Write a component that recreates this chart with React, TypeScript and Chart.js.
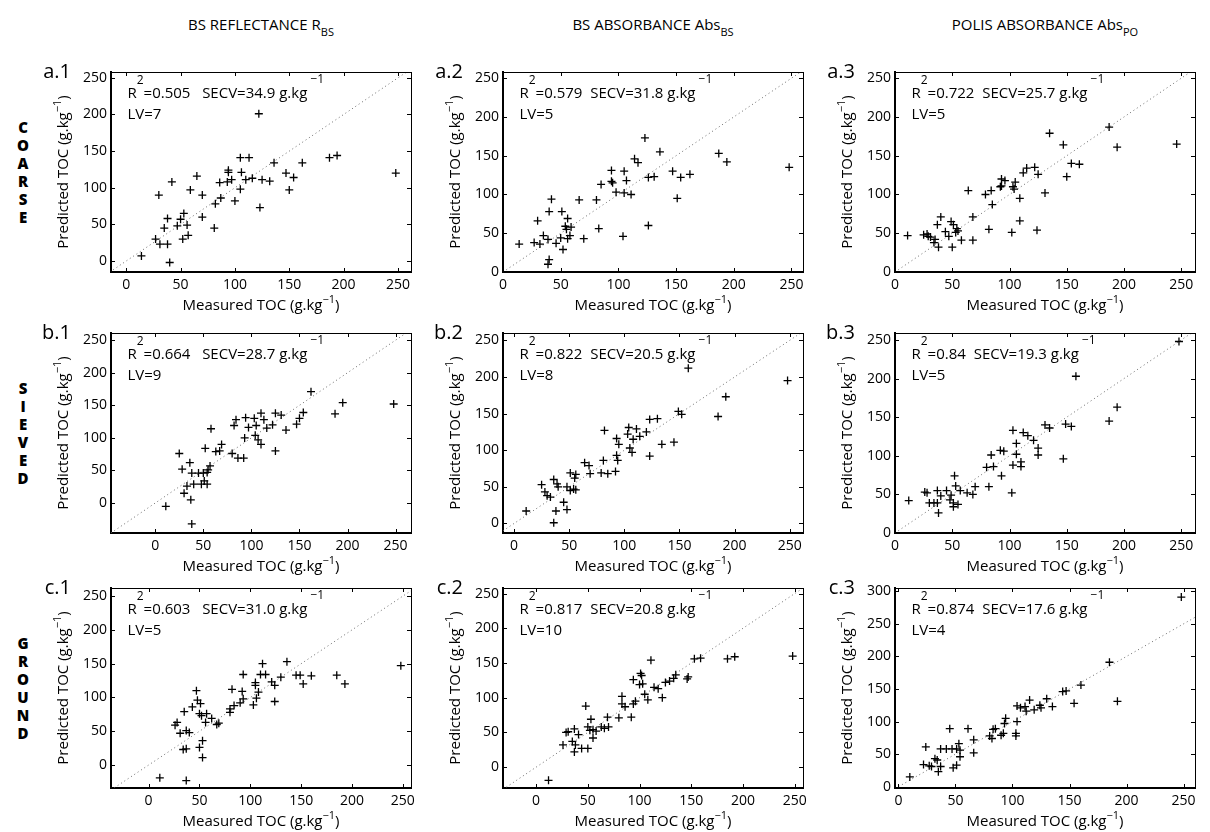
import React, { useEffect, useRef } from "react";
import { Chart, registerables } from "chart.js";

Chart.register(...registerables);

const FONT = '"Open Sans", "Noto Sans", "DejaVu Sans", sans-serif';

// ---------------- data (measured vs predicted TOC, g.kg-1) ----------------
const a1Measured = [122, 105, 113, 136, 187, 194, 162, 65, 42, 94, 94, 106, 86, 93, 97, 110, 116, 125, 132, 147, 154, 150, 105, 59, 30, 70, 248, 38, 53, 50, 70, 35, 47, 56, 81, 27, 31, 38, 52, 57, 14, 40, 82, 87, 100, 123];
const a1Predicted = [201, 141, 141, 134, 141, 144, 134, 116, 108, 124, 121, 121, 107, 108, 111, 111, 113, 111, 109, 120, 114, 97, 98, 97, 90, 90, 120, 58, 65, 57, 60, 45, 48, 49, 45, 30, 23, 23, 30, 35, 7, -2, 78, 86, 82, 73];

const a2Measured = [123, 136, 114, 117, 187, 194, 94, 105, 94, 95, 107, 85, 126, 131, 147, 154, 162, 98, 105, 111, 42, 66, 81, 151, 248, 30, 40, 51, 56, 54, 55, 59, 58, 83, 126, 104, 70, 56, 50, 46, 35, 39, 27, 32, 14, 52, 40, 39];
const a2Predicted = [173, 155, 146, 141, 153, 142, 131, 130, 117, 115, 118, 113, 122, 123, 130, 122, 126, 103, 102, 100, 94, 93, 93, 95, 135, 66, 78, 78, 69, 59, 55, 58, 47, 56, 60, 46, 43, 43, 44, 37, 47, 42, 38, 36, 36, 29, 16, 10];

const a3Measured = [135, 147, 187, 194, 154, 161, 150, 112, 115, 122, 125, 93, 96, 105, 92, 93, 103, 104, 64, 79, 84, 109, 131, 246, 11, 25, 28, 29, 31, 35, 34, 38, 40, 37, 49, 51, 44, 47, 53, 55, 54, 58, 50, 68, 68, 82, 102, 109, 124, 85];
const a3Predicted = [179, 164, 187, 161, 140, 139, 123, 128, 134, 135, 126, 120, 118, 116, 110, 111, 110, 107, 105, 100, 105, 95, 102, 165, 47, 48, 49, 46, 45, 42, 38, 32, 71, 61, 65, 61, 52, 46, 51, 53, 56, 41, 32, 71, 41, 55, 51, 66, 54, 87];

const b1Measured = [162, 195, 187, 154, 150, 147, 136, 125, 131, 122, 110, 113, 94, 103, 105, 97, 116, 84, 82, 104, 107, 110, 93, 125, 58, 52, 69, 67, 63, 80, 86, 92, 25, 28, 36, 38, 45, 50, 55, 57, 54, 33, 30, 40, 48, 51, 54, 37, 11, 38, 248];
const b1Predicted = [171, 154, 137, 139, 130, 121, 112, 138, 135, 120, 138, 128, 131, 130, 119, 116, 115, 128, 119, 104, 97, 90, 100, 80, 114, 84, 90, 80, 79, 76, 69, 69, 76, 52, 62, 46, 46, 46, 51, 57, 47, 26, 15, 29, 29, 34, 29, 5, -5, -32, 152];

const b2Measured = [192, 185, 149, 152, 123, 130, 120, 114, 111, 104, 103, 108, 93, 95, 82, 145, 134, 123, 105, 107, 93, 94, 81, 92, 79, 85, 64, 68, 69, 51, 56, 55, 48, 51, 54, 56, 36, 39, 40, 25, 28, 30, 33, 45, 48, 38, 11, 36, 248, 158];
const b2Predicted = [173, 146, 153, 149, 142, 143, 125, 119, 129, 131, 122, 115, 116, 108, 127, 111, 108, 92, 103, 97, 93, 86, 86, 71, 69, 68, 83, 79, 68, 69, 67, 62, 50, 45, 47, 46, 60, 54, 50, 53, 43, 38, 36, 29, 19, 17, 17, 1, 195, 212];

const b3Measured = [194, 187, 149, 154, 131, 135, 112, 116, 121, 103, 106, 125, 125, 106, 92, 95, 84, 110, 110, 103, 80, 86, 147, 93, 52, 53, 57, 82, 70, 68, 63, 45, 49, 48, 51, 55, 37, 40, 26, 28, 30, 34, 37, 38, 51, 12, 102, 248, 158];
const b3Predicted = [163, 145, 141, 138, 140, 136, 130, 126, 120, 133, 116, 110, 101, 102, 107, 106, 101, 92, 86, 88, 85, 86, 96, 74, 74, 61, 55, 60, 60, 50, 52, 55, 49, 43, 39, 37, 55, 48, 53, 52, 39, 39, 39, 26, 34, 42, 52, 248, 203];

const c1Measured = [11, 37, 26, 28, 31, 34, 37, 35, 37, 40, 43, 47, 48, 50, 52, 51, 50, 53, 53, 57, 56, 62, 67, 69, 80, 80, 82, 84, 90, 93, 92, 93, 103, 105, 105, 106, 108, 110, 112, 115, 121, 124, 124, 130, 136, 145, 149, 152, 160, 185, 193, 248];
const c1Predicted = [-19, -23, 59, 63, 47, 23, 24, 79, 51, 48, 86, 110, 96, 76, 73, 91, 26, 36, 11, 76, 63, 69, 60, 62, 83, 78, 112, 88, 92, 98, 109, 134, 89, 118, 122, 99, 108, 134, 150, 134, 123, 118, 94, 130, 153, 133, 133, 120, 132, 133, 120, 147];

const c2Measured = [12, 26, 29, 31, 35, 37, 38, 37, 41, 44, 50, 48, 50, 52, 55, 58, 53, 55, 63, 66, 70, 69, 80, 83, 83, 86, 92, 94, 96, 94, 101, 102, 100, 103, 105, 108, 111, 114, 118, 122, 125, 129, 133, 135, 146, 147, 153, 159, 185, 192, 248];
const c2Predicted = [-19, 32, 50, 51, 37, 22, 32, 55, 47, 27, 27, 88, 58, 53, 54, 52, 69, 42, 58, 56, 58, 72, 71, 91, 102, 87, 72, 91, 95, 126, 135, 132, 119, 120, 105, 97, 154, 115, 113, 100, 122, 124, 128, 133, 127, 130, 156, 157, 156, 159, 160];

const c3Measured = [10, 24, 22, 27, 29, 32, 34, 35, 37, 42, 47, 51, 37, 45, 48, 51, 54, 54, 53, 61, 66, 66, 80, 82, 83, 85, 90, 92, 93, 94, 103, 103, 104, 104, 107, 111, 112, 115, 119, 124, 125, 130, 135, 144, 147, 160, 154, 185, 192, 248];
const c3Predicted = [15, 61, 34, 32, 31, 43, 41, 23, 58, 58, 58, 58, 31, 89, 29, 33, 46, 56, 66, 89, 72, 52, 78, 74, 88, 89, 79, 82, 97, 105, 82, 78, 100, 124, 121, 123, 116, 133, 118, 125, 121, 135, 123, 146, 147, 156, 128, 191, 131, 291];

const measuredSets = [a1Measured, a2Measured, a3Measured, b1Measured, b2Measured, b3Measured, c1Measured, c2Measured, c3Measured];
const predictedSets = [a1Predicted, a2Predicted, a3Predicted, b1Predicted, b2Predicted, b3Predicted, c1Predicted, c2Predicted, c3Predicted];

const panelLabels = ["a.1", "a.2", "a.3", "b.1", "b.2", "b.3", "c.1", "c.2", "c.3"];
const r2Values = ["0.505", "0.579", "0.722", "0.664", "0.822", "0.84", "0.603", "0.817", "0.874"];
const secvValues = ["34.9", "31.8", "25.7", "28.7", "20.5", "19.3", "31.0", "20.8", "17.6"];
const lvValues = ["7", "5", "5", "9", "8", "5", "5", "10", "4"];

// axis limits
const xMins = [-14, 0, 0, -46, -10, 0, -37, -32, -3];
const xMaxs = [262, 260, 262, 266, 262, 262, 258, 258, 260];
const yMins = [-15, 0, 0, -46, -13, 0, -34, -30, -2];
const yMaxs = [258, 258, 258, 261, 260, 259, 262, 258, 305];

const xTickValues = [0, 50, 100, 150, 200, 250];
const yTickValues = [0, 50, 100, 150, 200, 250];
const yTickValuesWide = [0, 50, 100, 150, 200, 250, 300];

const columnTitles = [
  { main: "BS REFLECTANCE R", sub: "BS" },
  { main: "BS ABSORBANCE Abs", sub: "BS" },
  { main: "POLIS ABSORBANCE Abs", sub: "PO" },
];
const rowLabels = ["COARSE", "SIEVED", "GROUND"];

// ---------------- layout ----------------
const COL_LEFT = [111, 503, 895];
const ROW_TOP = [72, 333, 588];
const PLOT_W = 300;
const PLOT_H = 200;
const PAD_L = 82;
const PAD_T = 14;
const PAD_R = 14;
const PAD_B = 46;
const Y_W = 40;
const X_H = 24;
const CW = PAD_L + PLOT_W + PAD_R;
const CH = PAD_T + PLOT_H + PAD_B;
const TICK = 4;

type Seg = { text: string; size: number; dy: number };

function drawSegments(ctx: CanvasRenderingContext2D, x: number, y: number, segs: Seg[], align: "left" | "center") {
  let total = 0;
  const widths = segs.map((s) => {
    ctx.font = `${s.size}px ${FONT}`;
    const w = ctx.measureText(s.text).width;
    total += w;
    return w;
  });
  let cx = align === "center" ? x - total / 2 : x;
  ctx.textAlign = "left";
  ctx.textBaseline = "middle";
  segs.forEach((s, i) => {
    ctx.font = `${s.size}px ${FONT}`;
    ctx.fillText(s.text, cx, y + s.dy);
    cx += widths[i];
  });
}

type PanelSpec = {
  idx: number;
  row: number;
  col: number;
};

function makeFramePlugin(spec: PanelSpec) {
  const i = spec.idx;
  return {
    id: "frame" + i,
    afterDraw(chart: any) {
      const { ctx, chartArea } = chart;
      const { left, right, top, bottom } = chartArea;
      const xs = chart.scales.x;
      const ys = chart.scales.y;
      ctx.save();
      ctx.strokeStyle = "#000";
      ctx.lineWidth = 1;
      ctx.beginPath();
      ctx.moveTo(left, top + 0.5);
      ctx.lineTo(right + 0.5, top + 0.5);
      ctx.moveTo(right + 0.5, top);
      ctx.lineTo(right + 0.5, bottom);
      xs.ticks.forEach((t: any) => {
        const px = Math.round(xs.getPixelForValue(t.value)) + 0.5;
        ctx.moveTo(px, bottom);
        ctx.lineTo(px, bottom - TICK);
        ctx.moveTo(px, top);
        ctx.lineTo(px, top + TICK);
      });
      ys.ticks.forEach((t: any) => {
        const py = Math.round(ys.getPixelForValue(t.value)) + 0.5;
        ctx.moveTo(left, py);
        ctx.lineTo(left + TICK, py);
        ctx.moveTo(right, py);
        ctx.lineTo(right - TICK, py);
      });
      ctx.stroke();

      ctx.fillStyle = "#000";
      // panel label
      ctx.font = `20px ${FONT}`;
      ctx.textAlign = "right";
      ctx.textBaseline = "middle";
      ctx.fillText(panelLabels[i], left - 40, top);

      // statistics annotation
      const ax = xs.getPixelForValue(xMins[i] + 0.055 * (xMaxs[i] - xMins[i]));
      const ay = ys.getPixelForValue(yMins[i] + 0.89 * (yMaxs[i] - yMins[i]));
      const gap = spec.col === 0 ? "   " : "  ";
      drawSegments(ctx, ax, ay, [
        { text: "R", size: 15, dy: 0 },
        { text: "2", size: 12, dy: -13 },
        { text: "=" + r2Values[i] + gap + "SECV=" + secvValues[i] + " g.kg", size: 15, dy: 0 },
        { text: " \u22121", size: 12, dy: -14 },
      ], "left");
      drawSegments(ctx, ax, ay + 21, [{ text: "LV=" + lvValues[i], size: 15, dy: 0 }], "left");

      // x title
      drawSegments(ctx, (left + right) / 2, bottom + 34, [
        { text: "Measured TOC (g.kg", size: 15, dy: 0 },
        { text: "\u22121", size: 11, dy: -6 },
        { text: ")", size: 15, dy: 0 },
      ], "center");

      // y title
      ctx.save();
      ctx.translate(left - 47, (top + bottom) / 2);
      ctx.rotate(-Math.PI / 2);
      drawSegments(ctx, 0, 0, [
        { text: "Predicted TOC (g.kg", size: 15, dy: 0 },
        { text: "\u22121", size: 11, dy: -6 },
        { text: ")", size: 15, dy: 0 },
      ], "center");
      ctx.restore();
      ctx.restore();
    },
  };
}

function PanelChart({ spec }: { spec: PanelSpec }) {
  const ref = useRef<HTMLCanvasElement | null>(null);
  useEffect(() => {
    const canvas = ref.current;
    if (!canvas) return;
    const i = spec.idx;
    const lo = Math.min(xMins[i], yMins[i]);
    const hi = Math.max(xMaxs[i], yMaxs[i]);
    const yTicks = yMaxs[i] > 280 ? yTickValuesWide : yTickValues;
    const tickFont = { family: FONT, size: 14 };
    const chart = new Chart(canvas, {
      type: "scatter",
      data: {
        datasets: [
          {
            type: "scatter",
            data: measuredSets[i].map((m, k) => ({ x: m, y: predictedSets[i][k] })),
            pointStyle: "cross",
            pointRadius: 4,
            pointHoverRadius: 4,
            pointBorderWidth: 1.3,
            borderColor: "#000",
            backgroundColor: "#000",
          } as any,
          {
            type: "line",
            data: [{ x: lo, y: lo }, { x: hi, y: hi }],
            borderColor: "#6a6a6a",
            borderWidth: 1,
            borderDash: [1, 3],
            pointRadius: 0,
            fill: false,
          } as any,
        ],
      },
      options: {
        responsive: false,
        maintainAspectRatio: false,
        animation: false,
        devicePixelRatio: 1,
        events: [],
        layout: { padding: { left: PAD_L - Y_W, top: PAD_T, right: PAD_R, bottom: PAD_B - X_H } },
        plugins: { legend: { display: false }, tooltip: { enabled: false }, title: { display: false } },
        scales: {
          x: {
            type: "linear",
            position: "bottom",
            min: xMins[i],
            max: xMaxs[i],
            afterFit: (s: any) => { s.height = X_H; },
            afterBuildTicks: (s: any) => { s.ticks = xTickValues.map((v) => ({ value: v })); },
            grid: { display: false, drawTicks: false },
            border: { display: true, width: 2, color: "#000" },
            ticks: { color: "#000", font: tickFont, padding: 5, maxRotation: 0, autoSkip: false },
          },
          y: {
            type: "linear",
            position: "left",
            min: yMins[i],
            max: yMaxs[i],
            afterFit: (s: any) => { s.width = Y_W; },
            afterBuildTicks: (s: any) => { s.ticks = yTicks.map((v) => ({ value: v })); },
            grid: { display: false, drawTicks: false },
            border: { display: true, width: 2, color: "#000" },
            ticks: { color: "#000", font: tickFont, padding: 4, autoSkip: false },
          },
        },
      } as any,
      plugins: [makeFramePlugin(spec) as any],
    });
    return () => chart.destroy();
  }, [spec]);
  return (
    <canvas
      ref={ref}
      width={CW}
      height={CH}
      style={{ position: "absolute", left: COL_LEFT[spec.col] - PAD_L, top: ROW_TOP[spec.row] - PAD_T, width: CW, height: CH }}
    />
  );
}

const panelSpecs: PanelSpec[] = panelLabels.map((_, idx) => ({ idx, row: Math.floor(idx / 3), col: idx % 3 }));

export default function App() {
  return (
    <div style={{ position: "fixed", left: 0, top: 0, width: 1210, height: 832, background: "#fff", fontFamily: FONT, color: "#000", overflow: "hidden" }}>
      {columnTitles.map((t, c) => (
        <div
          key={t.main}
          style={{ position: "absolute", left: COL_LEFT[c] + PLOT_W / 2 - 200, width: 400, top: 14, textAlign: "center", fontSize: 15, lineHeight: "20px", whiteSpace: "nowrap" }}
        >
          {t.main}
          <span style={{ fontSize: 11, position: "relative", top: 6 }}>{t.sub}</span>
        </div>
      ))}
      {rowLabels.map((label, r) => (
        <div
          key={label}
          style={{ position: "absolute", left: 12, width: 22, top: ROW_TOP[r] + PLOT_H / 2 - (label.length * 18) / 2, textAlign: "center", fontSize: 15, fontWeight: 800, lineHeight: "18px" }}
        >
          {label.split("").map((ch, k) => (
            <div key={k}>{ch}</div>
          ))}
        </div>
      ))}
      {panelSpecs.map((s) => (
        <PanelChart key={s.idx} spec={s} />
      ))}
    </div>
  );
}
